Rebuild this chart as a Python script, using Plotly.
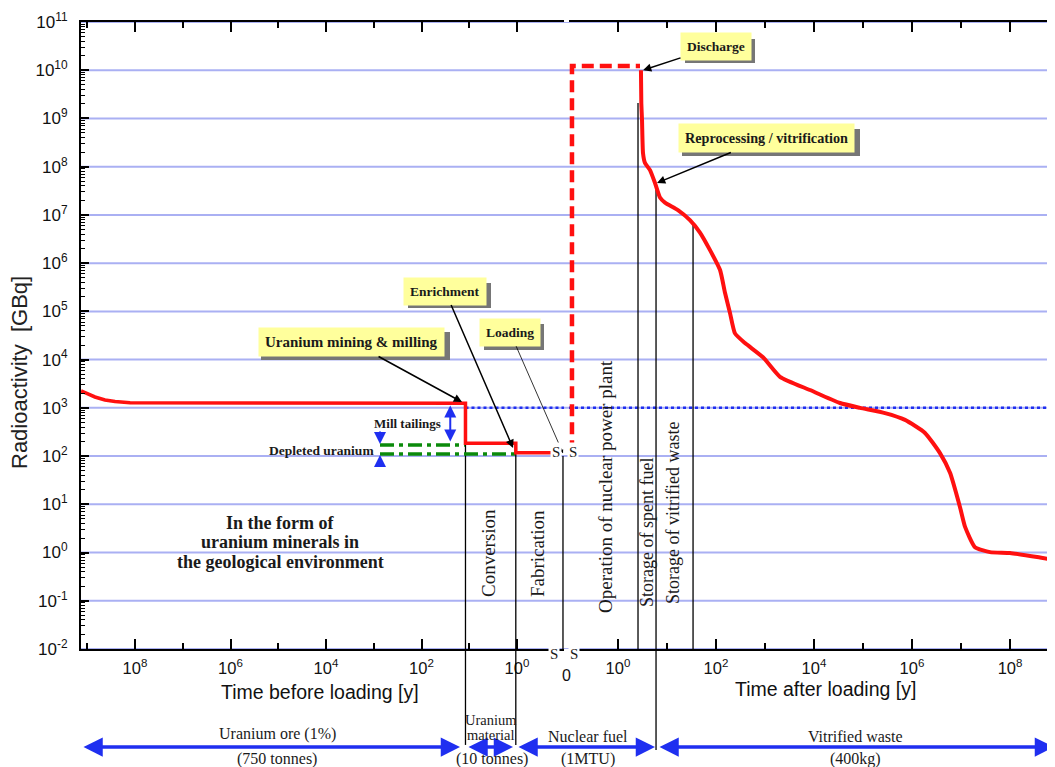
import math
import plotly.graph_objects as go

# ---------------- data ----------------
# Before loading: years before loading vs radioactivity [GBq]
ore_time = [1.35e9, 9.6e8, 6.9e8, 4.25e8, 2.62e8, 1.27e8, 12, 12, 1.06, 1.06, 0.16]
ore_activity = [2240, 1890, 1680, 1455, 1350, 1270, 1240, 184, 184, 117, 117]

# Reactor operation (dashed)
reactor_time = [0.115, 0.115, 2.81]
reactor_activity = [120, 1.22e10, 1.22e10]

# After loading: spent fuel -> vitrified waste
waste_time = [2.94, 2.99, 3.09, 3.24, 3.55, 4.5, 5.69, 7.19, 9.1, 16.7, 29.4, 47.1,
              75.5, 121, 153, 193, 244, 391, 910, 2020, 8280, 3.4e4, 8.69e4, 2.81e5,
              7.2e5, 1.84e6, 3.72e6, 5.97e6, 9.55e6, 1.21e7, 1.93e7, 3.91e7, 1.0e8,
              4.09e8, 8.28e8]
waste_activity = [1e10, 2.09e9, 9.3e8, 1.9e8, 1.2e8, 8.5e7, 4.6e7, 2.3e7, 1.8e7, 1.26e7,
                  7.8e6, 4.3e6, 1.86e6, 7.2e5, 2.4e5, 9.3e4, 3.5e4, 2.2e4, 1.12e4, 4400,
                  2340, 1260, 1000, 776, 562, 302, 115, 45, 8.7, 3.4, 1.29, 1.02, 0.98,
                  0.79, 0.70]

# Level of the original uranium ore (dotted)
natural_level = 1000
natural_before_time = [12, 0.104]
natural_after_time = [0.1, 8.3e8]

# Mill tailings and depleted uranium (dash-dot)
tailings_time = [740, 12.3]
tailings_activity = [170, 170]
depleted_time = [740, 1.06]
depleted_activity = [110, 110]

# Phase boundaries: (time, activity at top of boundary line)
before_bounds = [(12, 184), (1.06, 117), (0.109, 100)]
after_bounds = [(2.56, 2.1e9), (5.97, 3.3e7), (34, 7.1e6)]

y_decades = list(range(-2, 12))
left_ticks = [8, 6, 4, 2, 0]
right_ticks = [0, 2, 4, 6, 8]

# ---------------- figure ----------------
OFF = 8  # page margin of the html body
W, H = 1055 - OFF, 767 - OFF
ML, MR, MT = 81 - OFF, 0, 22 - OFF
PW, PH = W - ML - MR, 627
MB = H - MT - PH
SERIF = "Liberation Serif, Times New Roman, serif"
SANS = "Liberation Sans, Arial, sans-serif"
RED = "#ff1010"
BLUE = "#1f2ff0"
GRID = "#aab0f3"


def px(xp):  # reference page pixel -> paper x
    return (xp - 81) / PW


def py(yp):  # reference page pixel -> paper y
    return (649 - yp) / PH


fig = go.Figure()

line_kw = dict(mode="lines", hoverinfo="skip", showlegend=False)

# natural level dotted
fig.add_trace(go.Scatter(x=natural_before_time, y=[natural_level] * 2, xaxis="x", yaxis="y",
                         line=dict(color=BLUE, width=2.5, dash="3px,3px"), **line_kw))
fig.add_trace(go.Scatter(x=natural_after_time, y=[natural_level] * 2, xaxis="x2", yaxis="y",
                         line=dict(color=BLUE, width=2.5, dash="3px,3px"), **line_kw))

# vertical phase boundaries (inside plot)
for t, a in before_bounds:
    fig.add_trace(go.Scatter(x=[t, t], y=[a, 0.01], xaxis="x", yaxis="y",
                             line=dict(color="black", width=1.3), **line_kw))
for t, a in after_bounds:
    fig.add_trace(go.Scatter(x=[t, t], y=[a, 0.01], xaxis="x2", yaxis="y",
                             line=dict(color="black", width=1.3), **line_kw))

# green dash-dot
fig.add_trace(go.Scatter(x=tailings_time, y=tailings_activity, xaxis="x", yaxis="y",
                         line=dict(color="#0b8a0b", width=3.5, dash="14px,5px,4px,5px"), **line_kw))
fig.add_trace(go.Scatter(x=depleted_time, y=depleted_activity, xaxis="x", yaxis="y",
                         line=dict(color="#0b8a0b", width=3.5, dash="14px,5px,4px,5px"), **line_kw))

# red curves
fig.add_trace(go.Scatter(x=ore_time, y=ore_activity, xaxis="x", yaxis="y",
                         line=dict(color=RED, width=3.5), **line_kw))
fig.add_trace(go.Scatter(x=reactor_time, y=reactor_activity, xaxis="x2", yaxis="y",
                         line=dict(color=RED, width=4.5, dash="12px,6px"), **line_kw))
fig.add_trace(go.Scatter(x=waste_time, y=waste_activity, xaxis="x2", yaxis="y",
                         line=dict(color=RED, width=4, shape="spline", smoothing=0.5), **line_kw))

shapes = []
# horizontal grid lines running across both panels
for d in y_decades:
    shapes.append(dict(type="line", xref="paper", yref="y", x0=0, x1=1, y0=10 ** d, y1=10 ** d,
                       layer="below", line=dict(color=GRID, width=2)))

# extensions of boundary lines below the axis
for t, yb in [(before_bounds[0][0], -0.153), (before_bounds[1][0], -0.153)]:
    shapes.append(dict(type="line", xref="x", yref="paper", x0=t, x1=t, y0=0, y1=yb,
                       line=dict(color="black", width=1.3)))
shapes.append(dict(type="line", xref="x2", yref="paper", x0=after_bounds[1][0], x1=after_bounds[1][0],
                   y0=0, y1=-0.161, line=dict(color="black", width=1.3)))

# grey drop shadows of the call-out boxes (page pixel boxes of the labels, offset by 4 px)
for bx0, by0, bx1, by1 in [(681, 35, 751, 59), (678, 125, 856, 152), (404, 279, 487, 304),
                           (480, 320, 540, 346), (257, 328, 446, 356)]:
    shapes.append(dict(type="rect", xref="paper", yref="paper", layer="above",
                       x0=px(bx0 + 4), x1=px(bx1 + 4), y0=py(by0 + 4), y1=py(by1 + 4),
                       fillcolor="#767676", line=dict(width=0)))

anns = []


def callout(text, xref, tip_t, tip_a, dx, dy, size=13.5, thin=False):
    anns.append(dict(x=math.log10(tip_t), y=math.log10(tip_a), xref=xref, yref="y",
                     ax=dx, ay=dy, showarrow=True, text=f"<b>{text}</b>", borderpad=6,
                     arrowcolor="black", arrowhead=2, arrowsize=1.1 if not thin else 0.9,
                     arrowwidth=1.5 if not thin else 0.8,
                     bgcolor="#ffff9c", font=dict(family=SERIF, size=size, color="#1a1a1a")))


callout("Discharge", "x2", 3.24, 1e10, 73, -24, size=13.5)
callout("Reprocessing / vitrification", "x2", 6.25, 4.6e7, 109, -45, size=14.2)
callout("Enrichment", "x", 1.21, 147, -68, -157, size=13.5)
callout("Loading", "x", 0.109, 115, -53, -121, size=13.5, thin=True)
callout("Uranium mining &amp; milling", "x", 14.2, 1320, -110, -60, size=15)


# blue double arrows (mill tailings / depleted uranium)
def barrow(xref, t, a_head, a_tail, both=False):
    anns.append(dict(x=math.log10(t), y=math.log10(a_head), ax=math.log10(t), ay=math.log10(a_tail),
                     xref=xref, yref="y", axref=xref, ayref="y", text="", showarrow=True,
                     arrowhead=2, arrowsize=1.2, arrowwidth=2, arrowcolor=BLUE,
                     arrowside="end+start" if both else "end"))


barrow("x", 25, 1120, 186, both=True)
barrow("x", 740, 178, 347)
barrow("x", 740, 105, 57)


def txt(text, x, y, size, family=SERIF, angle=0, bold=False, color="#1a1a1a",
        xref="paper", yref="paper", **kw):
    anns.append(dict(x=x, y=y, xref=xref, yref=yref, text=f"<b>{text}</b>" if bold else text,
                     showarrow=False, textangle=angle, xanchor="center", yanchor="middle",
                     font=dict(family=family, size=size, color=color), **kw))


txt("Mill tailings", px(407), py(423), 13, bold=True)
txt("Depleted uranium", px(321), py(450), 13.5, bold=True)
for line, yp in [("In the form of", 523), ("uranium minerals in", 542),
                 ("the geological environment", 562)]:
    txt(line, px(280), py(yp), 18, bold=True)

txt("Conversion", px(488), py(553), 19, angle=-90)
txt("Fabrication", px(537), py(554), 19, angle=-90)
txt("Operation of nuclear power plant", px(605), py(487), 19, angle=-90)
txt("Storage of spent fuel", px(647), py(533), 18, angle=-90)
txt("Storage of vitrified waste", px(673), py(513), 18, angle=-90)

# axis titles
txt("Radioactivity  [GBq]", px(20), py(373), 22, family=SANS, angle=-90, color="#222")
txt("Time before loading [y]", px(320), py(692), 19.5, family=SANS, color="#111")
txt("Time after loading [y]", px(825), py(689), 19.5, family=SANS, color="#111")
txt("0", px(566), py(676), 16, family=SANS, color="#111")

# axis break marks
for xb, yb in [(554, 654), (574, 654), (556, 452), (573, 452)]:
    txt("S", px(xb), py(yb), 15, family=SERIF, bgcolor="white")

# bottom phase arrows
for x0, x1 in [(82, 460), (467, 513), (517, 655), (658, 1054)]:
    anns.append(dict(x=px(x1), y=py(747), xref="paper", yref="paper", ax=-(x1 - x0), ay=0,
                     text="", showarrow=True, arrowhead=2, arrowsize=1.1, arrowwidth=3.5,
                     arrowcolor=BLUE, arrowside="end+start"))

for label, xp, yp, sz in [("Uranium ore (1%)", 277, 734, 16), ("(750 tonnes)", 277, 759, 16),
                          ("Uranium", 491, 720, 14.5), ("material", 491, 735, 14.5),
                          ("(10 tonnes)", 492, 759, 16),
                          ("Nuclear fuel", 588, 736, 16), ("(1MTU)", 588, 759, 16),
                          ("Vitrified waste", 855, 736, 16), ("(400kg)", 855, 759, 16)]:
    txt(label, px(xp), py(yp), sz)

axis_common = dict(type="log", showline=True, linecolor="black", linewidth=2, mirror="ticks",
                   ticks="inside", ticklen=10, tickwidth=1.5, tickcolor="black", showgrid=False,
                   zeroline=False, tickfont=dict(family=SANS, size=16.5, color="#111"),
                   ticklabelstandoff=3)

fig.update_layout(
    width=W, height=H, autosize=False,
    margin=dict(l=ML, r=MR, t=MT, b=MB),
    paper_bgcolor="white", plot_bgcolor="white",
    showlegend=False,
    xaxis=dict(axis_common, domain=[0, px(564)], anchor="y",
               range=[9.131, -0.984],
               tickmode="array", tickvals=[10 ** d for d in left_ticks],
               ticktext=[f"10<sup>{d}</sup>" for d in left_ticks],
               minor=dict(tickmode="array", tickvals=[10 ** d for d in [9, 7, 5, 3, 1]],
                          ticks="inside", ticklen=6, tickcolor="black", tickwidth=1.5)),
    xaxis2=dict(axis_common, domain=[px(569), 1], anchor="y",
                range=[-1.0, 8.918],
                tickmode="array", tickvals=[10 ** d for d in right_ticks],
                ticktext=[f"10<sup>{d}</sup>" for d in right_ticks],
                minor=dict(tickmode="array", tickvals=[10 ** d for d in [1, 3, 5, 7]],
                           ticks="inside", ticklen=6, tickcolor="black", tickwidth=1.5)),
    yaxis=dict(type="log", range=[-2, 11], anchor="x", domain=[0, 1],
               showline=True, linecolor="black", linewidth=2, mirror=False,
               ticks="inside", ticklen=8, tickwidth=1.5, tickcolor="black",
               tickmode="array", tickvals=[10 ** d for d in y_decades],
               ticktext=[f"10<sup>{d}</sup>" for d in y_decades],
               tickfont=dict(family=SANS, size=17, color="#111"),
               ticklabelstandoff=8,
               showgrid=False, zeroline=False,
               minor=dict(tickmode="array",
                          tickvals=[m * 10 ** d for d in y_decades[:-1] for m in range(2, 10)],
                          ticks="inside", ticklen=4, tickcolor="black", tickwidth=1)),
    shapes=shapes,
    annotations=anns,
)

fig.write_html("out.html")
